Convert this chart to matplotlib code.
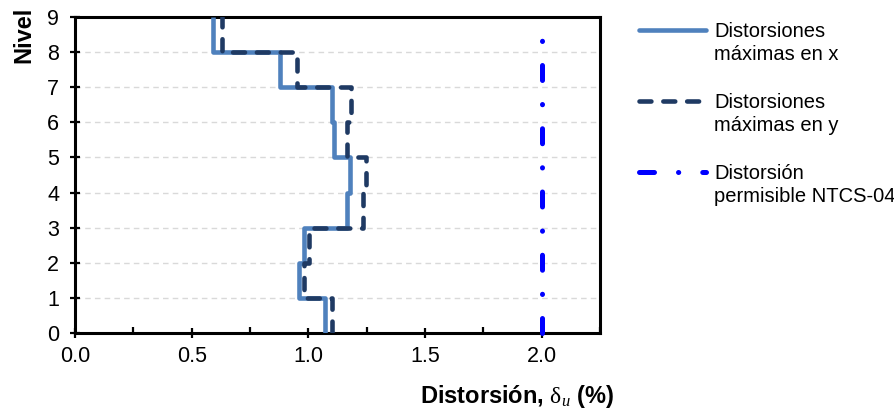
"""Distorsiones de entrepiso por nivel vs. distorsion permisible NTCS-04."""

import matplotlib

matplotlib.use("Agg")
import matplotlib.pyplot as plt  # noqa: E402
import numpy as np  # noqa: E402
from matplotlib.lines import Line2D  # noqa: E402
from matplotlib.ticker import MultipleLocator, FormatStrFormatter  # noqa: E402

# --- data (one value per story, story k spans level k-1 -> k) ---
niveles = [0, 1, 2, 3, 4, 5, 6, 7, 8, 9]
dist_x = [1.07, 0.96, 0.98, 1.165, 1.18, 1.11, 1.10, 0.88, 0.59]
dist_y = [1.10, 0.98, 1.005, 1.235, 1.248, 1.166, 1.185, 0.95, 0.632]
dist_perm = [2.0, 2.0]
nivel_perm = [0, 9]

labels = ["Distorsiones\nmáximas en x",
          "Distorsiones\nmáximas en y",
          "Distorsión\npermisible NTCS-04"]

C_X = "#4F81BD"
C_Y = "#1F3A63"
C_PERM = "#0000FF"

plt.rcParams["font.family"] = ["Liberation Sans", "DejaVu Sans"]
plt.rcParams["mathtext.fontset"] = "custom"
plt.rcParams["mathtext.rm"] = "Liberation Serif"
plt.rcParams["mathtext.it"] = "Liberation Serif:italic"


def story_path(values, levels):
    """Vertical step profile: each story value held from level k-1 to k."""
    xs = np.repeat(values, 2)
    ys = np.column_stack([levels[:-1], levels[1:]]).ravel()
    return xs, ys


fig = plt.figure(figsize=(8.95, 4.12), dpi=100)
ax = fig.add_axes([75 / 895, 1 - 333 / 412, 525 / 895, 316 / 412])

LW = 3.3
style_x = dict(color=C_X, lw=LW, solid_capstyle="butt", solid_joinstyle="round")
style_y = dict(color=C_Y, lw=LW, linestyle=(0, (2.6, 2.6)),
               dash_capstyle="round", dash_joinstyle="round")
style_p = dict(color=C_PERM, lw=3.6, linestyle=(0, (3.0, 4.8, 0.05, 4.8)),
               dash_capstyle="round")

xs, ys = story_path(dist_x, niveles)
ax.plot(xs, ys, zorder=3, **style_x)
xs, ys = story_path(dist_y, niveles)
ax.plot(xs, ys, zorder=4, **style_y)
ax.plot(dist_perm, nivel_perm, zorder=4, clip_on=False, **style_p)

ax.set_xlim(0, 2.25)
ax.set_ylim(0, 9)
ax.xaxis.set_major_locator(MultipleLocator(0.5))
ax.xaxis.set_minor_locator(MultipleLocator(0.25))
ax.xaxis.set_major_formatter(FormatStrFormatter("%.1f"))
ax.yaxis.set_major_locator(MultipleLocator(1))

ax.grid(axis="y", color="#D9D9D9", lw=1.0, linestyle=(0, (4, 3)))
ax.set_axisbelow(True)

for sp in ax.spines.values():
    sp.set_linewidth(2.2)
    sp.set_color("black")

ax.tick_params(axis="both", which="major", direction="inout", length=7, width=1.6,
               labelsize=15.5, colors="black")
ax.tick_params(axis="x", which="major", pad=6)
ax.tick_params(axis="y", which="major", pad=8)
ax.tick_params(axis="x", which="minor", direction="in", length=4, width=1.6)

ax.set_xlabel(r"Distorsión, $\mathrm{\delta}_{u}$ (%)", fontsize=17, fontweight="bold")
ax.xaxis.set_label_coords(0.842, -0.158)
ax.set_ylabel("Nivel", fontsize=17, fontweight="bold")
ax.yaxis.set_label_coords(-0.075, 0.942)

# --- legend drawn by hand: handle aligned with the first text line ---
W, H = 895, 412
entry_y = [30, 101, 172]
for style, lab, yy in zip([style_x, style_y, style_p], labels, entry_y):
    h = Line2D([639 / W, 706 / W], [1 - yy / H, 1 - yy / H],
               transform=fig.transFigure, **style)
    if style is style_x:
        h.set_solid_capstyle("round")
    fig.add_artist(h)
    fig.text(714 / W, 1 - (yy + 13) / H, lab, fontsize=14.5, va="center",
             ha="left", linespacing=1.3)

fig.savefig("out.png", dpi=100)
